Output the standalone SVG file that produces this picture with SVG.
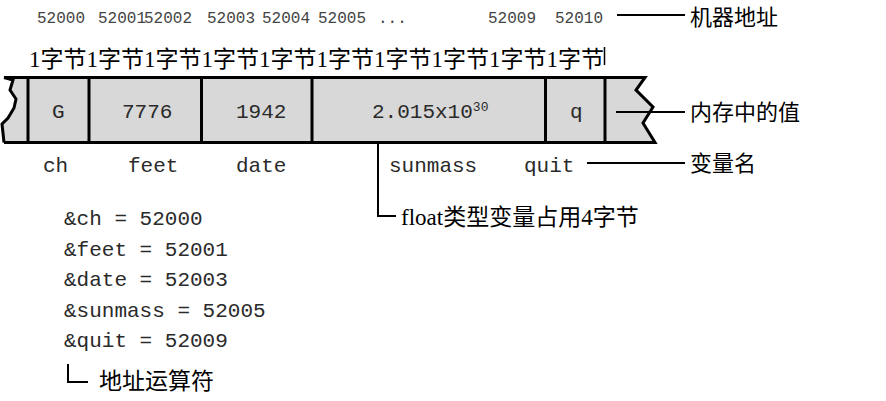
<svg xmlns="http://www.w3.org/2000/svg" width="886" height="401" viewBox="0 0 886 401">
<style>
.addr{font-family:"Liberation Mono","DejaVu Sans Mono",monospace;font-size:16px;fill:#444}
.mono{font-family:"Liberation Mono","DejaVu Sans Mono",monospace;font-size:21px;fill:#2a2a2a}
.sup{font-family:"Liberation Mono","DejaVu Sans Mono",monospace;font-size:13px;fill:#2a2a2a}
.cn{font-family:"Liberation Serif","Noto Sans CJK SC",serif;font-size:22px;fill:#000}
.byte{font-family:"Liberation Serif","Noto Sans CJK SC",serif;font-size:23px;fill:#000}
.edge{fill:none;stroke:#000;stroke-width:3}
.div{stroke:#000;stroke-width:3}
.conn{fill:none;stroke:#000;stroke-width:2}
</style>
<rect width="886" height="401" fill="#fff"/>

<g id="addresses">
<text class="addr" x="37" y="23">52000</text>
<text class="addr" x="98" y="23">52001</text>
<text class="addr" x="144" y="23">52002</text>
<text class="addr" x="207" y="23">52003</text>
<text class="addr" x="262" y="23">52004</text>
<text class="addr" x="318" y="23">52005</text>
<text class="addr" x="378" y="23">...</text>
<text class="addr" x="488" y="23">52009</text>
<text class="addr" x="555" y="23">52010</text>
</g>

<g id="bytes">
<text class="byte" x="29" y="67">1字节</text>
<text class="byte" x="86.5" y="67">1字节</text>
<text class="byte" x="144" y="67">1字节</text>
<text class="byte" x="201.5" y="67">1字节</text>
<text class="byte" x="259" y="67">1字节</text>
<text class="byte" x="316.5" y="67">1字节</text>
<text class="byte" x="374" y="67">1字节</text>
<text class="byte" x="431.5" y="67">1字节</text>
<text class="byte" x="489" y="67">1字节</text>
<text class="byte" x="546.5" y="67">1字节</text>
<line x1="604.5" y1="47" x2="604.5" y2="65" stroke="#000" stroke-width="1.5"/>
</g>

<g id="memory">
<path d="M4,77.5 L645,77.5 L636,90 L653,107 L643,123 L655,142.5 L4,142.5 L2,124 L8,118 L14,108 L16,99 L10,90 L13,80 Z" fill="#d8d8d8" stroke="none"/>
<path class="edge" d="M4,77.5 L645,77.5 L636,90 L653,107 L643,123 L655,142.5 L4,142.5"/>
<path class="edge" d="M4,77.5 L13,80 L10,90 L16,99 L14,108 L8,118 L2,124 L4,142.5"/>
<line class="div" x1="28" y1="77" x2="28" y2="143"/>
<line class="div" x1="89" y1="77" x2="89" y2="143"/>
<line class="div" x1="201.5" y1="77" x2="201.5" y2="143"/>
<line class="div" x1="312" y1="77" x2="312" y2="143"/>
<line class="div" x1="545.5" y1="77" x2="545.5" y2="143"/>
<line class="div" x1="605" y1="77" x2="605" y2="143"/>
</g>

<g id="cell-ch"><text class="mono" x="52" y="118">G</text></g>
<g id="cell-feet"><text class="mono" x="122" y="118">7776</text></g>
<g id="cell-date"><text class="mono" x="236" y="118">1942</text></g>
<g id="cell-sunmass"><text class="mono" x="372" y="118">2.015x10<tspan class="sup" dy="-7">30</tspan></text></g>
<g id="cell-quit"><text class="mono" x="570" y="118">q</text></g>

<g id="names">
<text class="mono" x="43" y="172">ch</text>
<text class="mono" x="128" y="172">feet</text>
<text class="mono" x="236" y="172">date</text>
<text class="mono" x="389" y="172">sunmass</text>
<text class="mono" x="524" y="172">quit</text>
</g>

<g id="address-list">
<text class="mono" x="64" y="225">&amp;ch = 52000</text>
<text class="mono" x="64" y="255.5">&amp;feet = 52001</text>
<text class="mono" x="64" y="286">&amp;date = 52003</text>
<text class="mono" x="64" y="316.5">&amp;sunmass = 52005</text>
<text class="mono" x="64" y="347">&amp;quit = 52009</text>
</g>

<g id="label-address"><text class="cn" x="690" y="25">机器地址</text></g>
<g id="label-value"><text class="cn" x="690" y="120">内存中的值</text></g>
<g id="label-name"><text class="cn" x="690" y="171">变量名</text></g>
<g id="label-float"><text class="cn" x="401" y="225" style="font-size:23px">float类型变量占用4字节</text></g>
<g id="label-operator"><text class="cn" x="99" y="389" style="font-size:23px">地址运算符</text></g>

<g id="connectors">
<line class="conn" x1="617" y1="15" x2="685" y2="15"/>
<line class="conn" x1="616" y1="112" x2="685" y2="112"/>
<line class="conn" x1="587" y1="163" x2="685" y2="163"/>
<polyline class="conn" points="378,143 378,216 396,216"/>
<polyline class="conn" points="68,364 68,382 88,382"/>
</g>
</svg>
